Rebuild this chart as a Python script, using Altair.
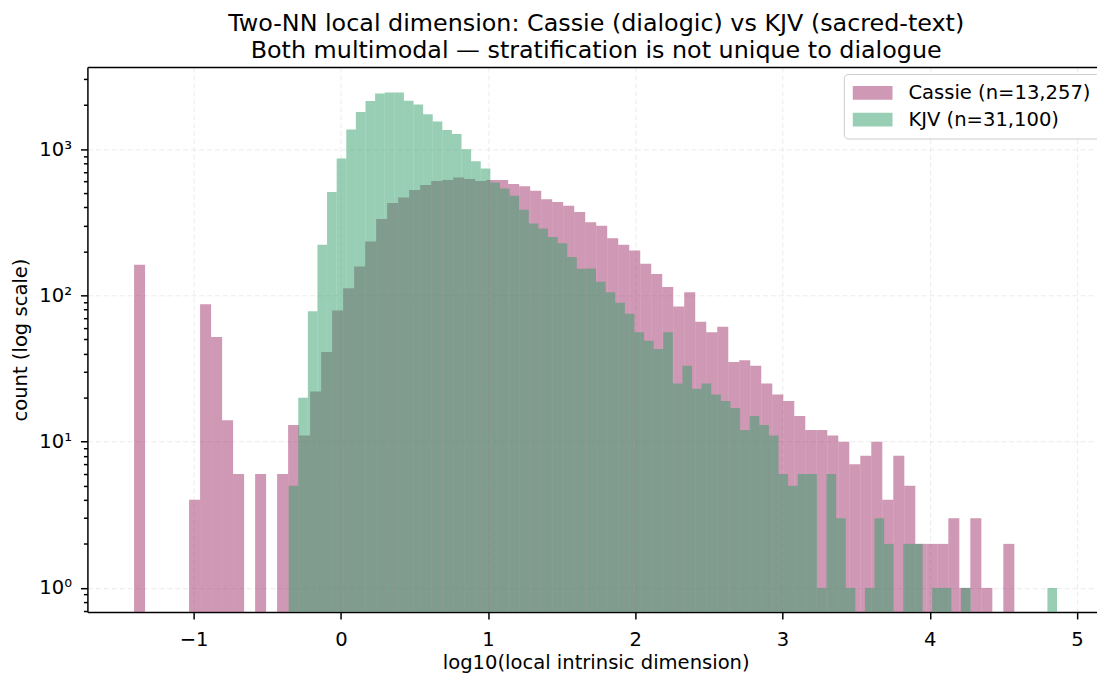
import altair as alt
import numpy as np
import pandas as pd

# ---- data (80 bins each) ----
cassie_label = "Cassie (n=13,257)"
kjv_label = "KJV (n=31,100)"

cassie_range = [-1.4046, 4.5745]
cassie_counts = [162, 0, 0, 0, 0, 4, 87, 52, 14, 6,
                 0, 6, 0, 6, 13, 11, 22, 41, 79, 112,
                 158, 234, 333, 428, 468, 526, 569, 605, 615, 640,
                 626, 605, 615, 615, 579, 559, 520, 455, 435, 410,
                 372, 317, 300, 246, 222, 203, 165, 140, 114, 84,
                 105, 66, 56, 61, 35, 36, 33, 25, 21, 19,
                 15, 12, 12, 11, 10, 7, 8, 10, 4, 8,
                 5, 2, 2, 2, 3, 1, 3, 1, 0, 2]

kjv_range = [-0.3547, 4.8645]
kjv_counts = [5, 20, 78, 222, 509, 865, 1366, 1795, 2134, 2399,
              2440, 2440, 2147, 2020, 1737, 1545, 1352, 1271, 1000, 827,
              739, 592, 538, 481, 385, 310, 287, 251, 227, 183,
              152, 153, 124, 105, 89, 75, 56, 49, 43, 56,
              25, 33, 23, 25, 21, 19, 17, 12, 15, 13,
              11, 6, 5, 6, 6, 1, 6, 3, 1, 0,
              1, 3, 2, 0, 2, 2, 0, 1, 1, 0,
              1, 0, 0, 0, 0, 0, 0, 0, 0, 1]

x_ticks = [-1, 0, 1, 2, 3, 4, 5]
y_ticks = [0.7, 0.8, 0.9, 1, 2, 3, 4, 5, 6, 7, 8, 9,
           10, 20, 30, 40, 50, 60, 70, 80, 90,
           100, 200, 300, 400, 500, 600, 700, 800, 900, 1000, 2000, 3000]
x_domain = [-1.7215, 5.136]
y_domain = [0.684, 3647]

title_lines = ["Two-NN local dimension: Cassie (dialogic) vs KJV (sacred-text)",
               "Both multimodal \u2014 stratification is not unique to dialogue"]

pink = "#9f3169"
green = "#319f69"
FONT = "DejaVu Sans"


def hist_rows(label, rng, counts):
    edges = np.linspace(rng[0], rng[1], len(counts) + 1)
    rows = []
    for i, c in enumerate(counts):
        if c > 0:
            rows.append({"series": label, "lo": edges[i], "hi": edges[i + 1],
                         "count": c, "base": y_domain[0]})
    return rows


df = pd.DataFrame(hist_rows(cassie_label, cassie_range, cassie_counts)
                  + hist_rows(kjv_label, kjv_range, kjv_counts))

is_pow = "abs(log(datum.value)/LN10 - round(log(datum.value)/LN10)) < 0.001"
sup = "['\u2070','\u00b9','\u00b2','\u00b3','\u2074']"

xscale = alt.Scale(domain=x_domain, nice=False, zero=False)
yscale = alt.Scale(type="log", domain=y_domain, nice=False)

yaxis = alt.Axis(
    values=y_ticks,
    labelExpr=f"{is_pow} ? '10' + {sup}[round(log(datum.value)/LN10)] : ''",
    tickSize={"condition": {"test": is_pow, "value": 7}, "value": 4},
    gridOpacity={"condition": {"test": is_pow, "value": 0.25}, "value": 0},
    labelPadding=9,
    title="count (log scale)",
    titleAngle=270, titleX=-61, titleY=274.5, titleAlign="center",
    titleBaseline="alphabetic",
)

xaxis = alt.Axis(
    values=x_ticks, format="d", tickSize=7, labelPadding=11,
    title="log10(local intrinsic dimension)",
    titleX=512, titleY=57, titleAlign="center", titleBaseline="alphabetic",
    gridOpacity=0.25,
)

# top spine, carrying the two-line chart title
top_axis = alt.Axis(
    orient="top", labels=False, ticks=False, grid=False, domain=True,
    minExtent=0, maxExtent=0,
    title=title_lines, titleFontSize=24, titleLineHeight=27,
    titleX=512, titleY=-36.5, titleAlign="center", titleBaseline="alphabetic",
)

bars = alt.Chart(df).mark_rect(opacity=0.5, clip=True).encode(
    x=alt.X("lo:Q", scale=xscale, axis=xaxis),
    x2="hi:Q",
    y=alt.Y("count:Q", scale=yscale, axis=yaxis),
    y2="base:Q",
    color=alt.Color("series:N",
                    scale=alt.Scale(domain=[cassie_label, kjv_label], range=[pink, green]),
                    legend=alt.Legend(orient="none", legendX=762, legendY=7, title=None,
                                      symbolType="M-1,-0.7L3,-0.7L3,0.7L-1,0.7Z",
                                      symbolSize=400, symbolStrokeWidth=0,
                                      symbolOpacity=0.5, labelFontSize=19.7,
                                      labelFont=FONT, labelColor="black", labelLimit=400,
                                      labelOffset=36, padding=9, rowPadding=7,
                                      strokeColor="#cccccc", fillColor="white",
                                      cornerRadius=4)),
    order=alt.Order("series:N"),
)

top = alt.Chart(df).mark_rect(opacity=0).encode(
    x=alt.X("lo:Q", scale=xscale, axis=top_axis),
    x2="hi:Q",
    y=alt.Y("count:Q", scale=yscale, axis=yaxis),
    y2="base:Q",
)

chart = alt.layer(bars, top).resolve_axis(x="independent").properties(
    width=1017, height=549,
    padding={"left": 80, "top": 57, "right": 0, "bottom": 63},
    autosize=alt.AutoSizeParams(type="none"),
    background="white",
).configure_view(strokeWidth=0).configure_axis(
    labelFont=FONT, labelFontSize=19.7, labelColor="black",
    titleFont=FONT, titleFontSize=19.7, titleColor="black", titleFontWeight="normal",
    domainColor="black", domainWidth=1.5, tickColor="black", tickWidth=1.5,
    gridColor="#b0b0b0", gridDash=[5, 3], gridWidth=1,
)

chart.save("out.html", embed_options={"renderer": "svg", "actions": False})
